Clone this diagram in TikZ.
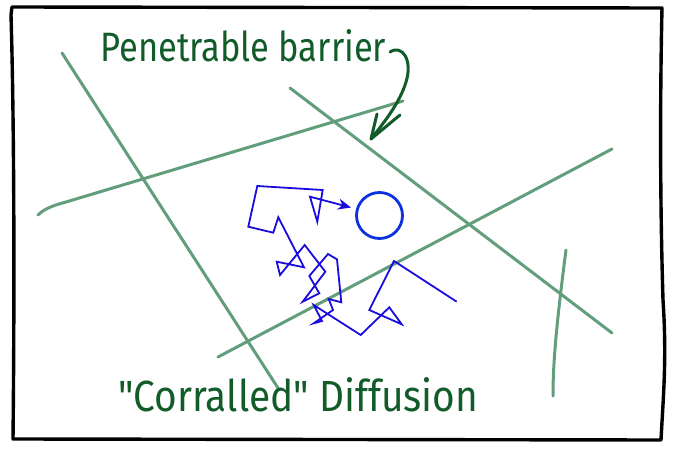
\documentclass[tikz,border=0pt]{standalone}
\usepackage{fontspec}
\setmainfont{Fira Sans}
\newfontfamily\plainfira{Fira Sans}
\usetikzlibrary{arrows.meta}
\definecolor{barrier}{RGB}{98,158,124}
\definecolor{ink}{RGB}{18,92,42}
\definecolor{walk}{RGB}{25,12,220}
\definecolor{spot}{RGB}{12,50,222}
\tikzset{
  frame/.style={draw=black,line width=3.4pt,line join=round,line cap=round},
  wall/.style={draw=barrier,line width=3pt,line cap=round},
  path walk/.style={draw=walk,line width=1.8pt,line join=miter},
  label text/.style={text=ink,inner sep=0pt,anchor=base west,font=\plainfira},
  pointer/.style={draw=ink,line width=3pt,line cap=round,line join=round}
}
\begin{document}
\begin{tikzpicture}[x=1pt,y=-1pt]
\useasboundingbox (0,0) rectangle (673,455);
% frame
\draw[frame] (12,7) -- (662,8) .. controls (660,100) and (660,200) .. (663,300)
  .. controls (667,360) and (663,400) .. (661,440) -- (13,439)
  .. controls (14,350) and (15,150) .. (11,15) -- cycle;
% barriers
\draw[wall] (62,53) -- (278,388);
\draw[wall] (290,88) -- (612,333);
\draw[wall] (38,215) .. controls (45,208) and (55,205) .. (66,202) -- (403,101);
\draw[wall] (218,357) -- (612,149);
\draw[wall] (566,250) .. controls (557,320) and (553,360) .. (553,396);
% target
\node[draw=spot,line width=2.8pt,circle,minimum size=46pt,inner sep=0pt] (target) at (379.5,215.5) {};
% random walk
\draw[path walk,-{Stealth[length=13pt,width=11pt]}]
  (456.7,301.7) -- (394,261) -- (369.3,310) -- (401.7,324.3) -- (389.3,307.3)
  -- (360.7,335) -- (313.7,305) -- (322,321) -- (313.7,323.3) -- (333,310)
  -- (328.7,299) -- (341.3,302.3) -- (337,259.3) -- (328,254) -- (309.3,276)
  -- (319.3,293.3) -- (302.7,301.7) -- (325.3,271.7) -- (304.7,245)
  -- (280,275) -- (276.7,261.7) -- (304,267.3) -- (278.3,217.3)
  -- (273.3,232.7) -- (248.3,226.7) -- (257.3,186) -- (322.7,190)
  -- (317.3,221.7) -- (310,196.7) -- (351,207.5);
% labels
\node[label text] (top) at (100,62) {\resizebox{286pt}{32pt}{Penetrable barrier}};
\node[label text] (bottom) at (118,411) {\resizebox{360pt}{34pt}{"Corralled" Diffusion}};
% pointer arrow
\coordinate (p0) at (390,52);
\coordinate (tip) at (371,139);
\coordinate (barbL) at (377,114);
\coordinate (barbR) at (400,115);
\draw[pointer] (p0) .. controls (402,44) and (413,60) .. (406,82)
  .. controls (400,102) and (386,120) .. (tip);
\draw[pointer] (barbL) -- (tip) -- (barbR);
\end{tikzpicture}
\end{document}
